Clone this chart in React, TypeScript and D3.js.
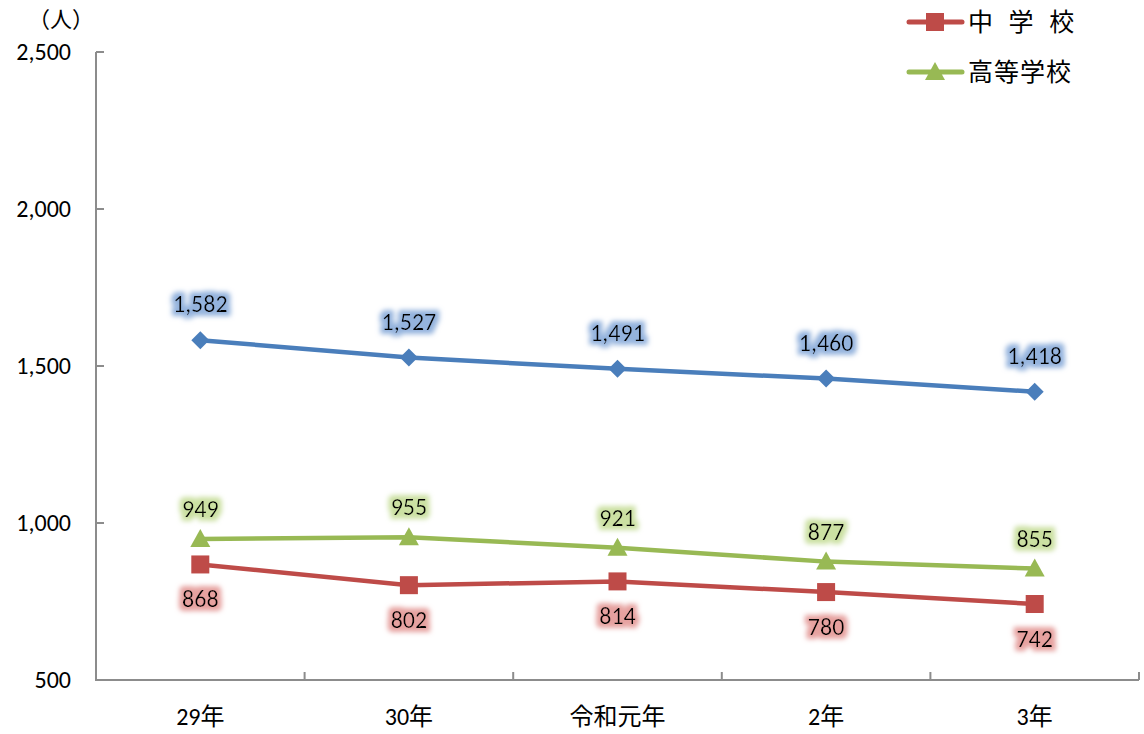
import React, { useEffect, useRef } from 'react';
import * as d3 from 'd3';

const years = ['29年', '30年', '令和元年', '2年', '3年'];
const totalValues = [1582, 1527, 1491, 1460, 1418];
const juniorValues = [868, 802, 814, 780, 742];
const seniorValues = [949, 955, 921, 877, 855];
const yTicks = [500, 1000, 1500, 2000, 2500];

const FONT = "Carlito, 'Open Sans', 'Noto Sans CJK JP', sans-serif";
const JP_FONT = "'Noto Sans CJK JP', sans-serif";

const App = () => {
  const ref = useRef<SVGSVGElement>(null);

  useEffect(() => {
    const svg = d3.select(ref.current);
    svg.selectAll('*').remove();

    const left = 96, right = 1139, top = 52, bottom = 680;

    const x = d3.scaleBand().domain(years).range([left, right]);
    const y = d3.scaleLinear().domain([500, 2500]).range([bottom, top]);
    const cx = (d: string) => (x(d) as number) + x.bandwidth() / 2;

    const series = [
      { name: '合計', values: totalValues, color: '#4A7EBB', glow: '#94B3DD', marker: 'diamond', labelDy: -28 },
      { name: '中 学 校', values: juniorValues, color: '#BE4B48', glow: '#E6A19F', marker: 'square', labelDy: 43 },
      { name: '高等学校', values: seniorValues, color: '#98B954', glow: '#CBE0A2', marker: 'triangle', labelDy: -22 },
    ];

    const defs = svg.append('defs');
    series.forEach((s, i) => {
      const f = defs.append('filter').attr('id', `glow${i}`)
        .attr('x', '-30%').attr('y', '-40%').attr('width', '160%').attr('height', '180%');
      f.append('feMorphology').attr('in', 'SourceAlpha').attr('operator', 'dilate').attr('radius', 3.5).attr('result', 'd');
      f.append('feGaussianBlur').attr('in', 'd').attr('stdDeviation', 2.5).attr('result', 'b');
      f.append('feFlood').attr('flood-color', s.glow).attr('result', 'c');
      f.append('feComposite').attr('in', 'c').attr('in2', 'b').attr('operator', 'in').attr('result', 'g');
      const m = f.append('feMerge');
      m.append('feMergeNode').attr('in', 'g');
      m.append('feMergeNode').attr('in', 'SourceGraphic');
    });

    // axes
    const axisColor = '#8C8C8C';
    svg.append('line').attr('x1', left).attr('x2', left).attr('y1', top).attr('y2', bottom)
      .attr('stroke', axisColor).attr('stroke-width', 2);
    svg.append('line').attr('x1', left - 1).attr('x2', right).attr('y1', bottom).attr('y2', bottom)
      .attr('stroke', axisColor).attr('stroke-width', 2);

    yTicks.forEach(t => {
      svg.append('line').attr('x1', left).attr('x2', left + 8).attr('y1', y(t)).attr('y2', y(t))
        .attr('stroke', axisColor).attr('stroke-width', 2);
      svg.append('text').attr('x', 71).attr('y', y(t)).attr('dy', '0.35em')
        .attr('text-anchor', 'end').attr('font-family', FONT).attr('font-size', 24).attr('fill', '#000')
        .text(d3.format(',')(t));
    });

    const bounds = years.map(d => x(d) as number).concat([right]).slice(1);
    bounds.forEach(b => {
      svg.append('line').attr('x1', b).attr('x2', b).attr('y1', bottom).attr('y2', bottom - 8)
        .attr('stroke', axisColor).attr('stroke-width', 2);
    });

    years.forEach(d => {
      svg.append('text').attr('x', cx(d)).attr('y', 725).attr('text-anchor', 'middle')
        .attr('font-family', FONT).attr('font-size', 24).attr('fill', '#000').text(d);
    });

    svg.append('text').attr('x', 61).attr('y', 27).attr('text-anchor', 'middle')
      .attr('font-family', JP_FONT).attr('font-size', 22).attr('fill', '#000').text('（人）');

    const drawMarker = (g: any, type: string, px: number, py: number, color: string) => {
      if (type === 'diamond') {
        g.append('path').attr('d', `M${px},${py - 9}L${px + 9},${py}L${px},${py + 9}L${px - 9},${py}Z`).attr('fill', color);
      } else if (type === 'square') {
        g.append('rect').attr('x', px - 9).attr('y', py - 9).attr('width', 18).attr('height', 18).attr('fill', color);
      } else {
        g.append('path').attr('d', `M${px},${py - 10}L${px + 10},${py + 8}L${px - 10},${py + 8}Z`).attr('fill', color);
      }
    };

    const line = d3.line<number>().x((_, i) => cx(years[i])).y(v => y(v));

    series.forEach((s, i) => {
      const g = svg.append('g');
      g.append('path').attr('d', line(s.values)).attr('fill', 'none')
        .attr('stroke', s.color).attr('stroke-width', 4.5).attr('stroke-linejoin', 'round');
      s.values.forEach((v, j) => drawMarker(g, s.marker, cx(years[j]), y(v), s.color));
      s.values.forEach((v, j) => {
        g.append('text').attr('x', cx(years[j])).attr('y', y(v) + s.labelDy)
          .attr('text-anchor', 'middle').attr('font-family', FONT).attr('font-size', 24)
          .attr('fill', '#000').attr('filter', `url(#glow${i})`)
          .text(d3.format(',')(v));
      });
    });

    // legend (only 中学校 and 高等学校 are shown)
    const legend = [series[1], series[2]];
    legend.forEach((s, i) => {
      const ly = 22 + i * 50;
      const g = svg.append('g');
      g.append('line').attr('x1', 909).attr('x2', 962).attr('y1', ly).attr('y2', ly)
        .attr('stroke', s.color).attr('stroke-width', 5).attr('stroke-linecap', 'round');
      drawMarker(g, s.marker, 935, ly, s.color);
      g.append('text').attr('x', 968).attr('y', ly).attr('dy', '0.36em')
        .attr('font-family', JP_FONT).attr('font-size', 25).attr('fill', '#000')
        .attr('letter-spacing', i === 0 ? 5 : 1)
        .style('white-space', 'pre')
        .text(s.name);
    });
  }, []);

  return (
    <svg ref={ref} width={1144} height={734}
      style={{ position: 'absolute', left: 0, top: 0, background: '#fff' }} />
  );
};

export default App;
